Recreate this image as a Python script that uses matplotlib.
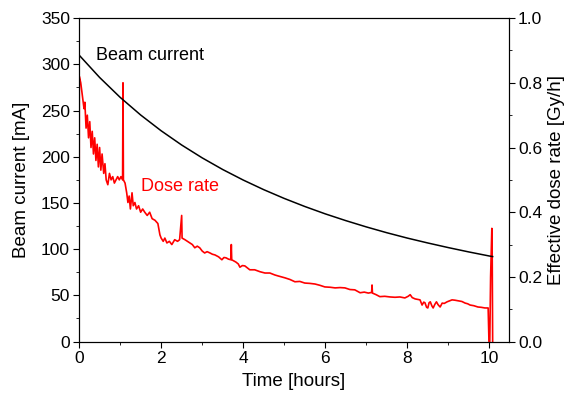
import matplotlib
matplotlib.use('Agg')
import matplotlib.pyplot as plt
from matplotlib.ticker import MultipleLocator
import numpy as np

# beam current [mA]
beam_t = [0.0, 0.5, 1.0, 1.5, 2.0, 2.5, 3.0, 3.5, 4.0, 4.5, 5.0, 5.5, 6.0,
          6.5, 7.0, 7.5, 8.0, 8.5, 9.0, 9.5, 10.0, 10.08]
beam_ma = [310, 285.8, 264.3, 245.2, 228.1, 212.7, 198.8, 186.2, 174.8, 164.4,
           154.9, 146.2, 138.2, 130.9, 124.1, 117.8, 112.0, 106.7, 101.7, 97.0,
           92.6, 92.0]

# effective dose rate [Gy/h]
dose_t = [0.0, 0.005, 0.04, 0.08, 0.12, 0.14, 0.17, 0.20, 0.23, 0.26, 0.29, 0.32,
          0.35, 0.38, 0.41, 0.44, 0.47, 0.50, 0.53, 0.56, 0.60, 0.63, 0.66, 0.70,
          0.74, 0.78, 0.82, 0.86, 0.90, 0.94, 0.98, 1.02, 1.06, 1.07, 1.08, 1.12,
          1.16, 1.19, 1.22, 1.25, 1.29, 1.32, 1.36, 1.40, 1.45, 1.50, 1.55, 1.60,
          1.66, 1.72, 1.78, 1.85, 1.92, 1.97, 2.00, 2.05, 2.09, 2.14, 2.20, 2.26,
          2.33, 2.40, 2.45, 2.50, 2.51, 2.58, 2.64, 2.70, 2.76, 2.82, 2.88, 2.94,
          3.00, 3.06, 3.12, 3.19, 3.25, 3.31, 3.40, 3.48, 3.53, 3.58, 3.64, 3.70,
          3.71, 3.72, 3.82, 3.88, 3.92, 3.98, 4.04, 4.10, 4.16, 4.28, 4.41, 4.53,
          4.65, 4.77, 4.85, 5.02, 5.14, 5.26, 5.38, 5.50, 5.62, 5.75, 5.87, 5.99,
          6.12, 6.24, 6.36, 6.48, 6.60, 6.72, 6.85, 6.95, 7.05, 7.13, 7.14, 7.15,
          7.24, 7.33, 7.45, 7.58, 7.70, 7.82, 7.94, 8.02, 8.07, 8.12, 8.19, 8.27,
          8.31, 8.36, 8.40, 8.43, 8.47, 8.50, 8.53, 8.56, 8.60, 8.63, 8.67, 8.71,
          8.75, 8.80, 8.85, 8.90, 8.97, 9.03, 9.09, 9.16, 9.24, 9.33, 9.41, 9.47,
          9.53, 9.62, 9.72, 9.80, 9.89, 9.97, 9.99, 10.01, 10.03, 10.06, 10.07, 10.08]
dose_gy = [0.0, 0.82, 0.80, 0.76, 0.72, 0.74, 0.66, 0.70, 0.63, 0.68, 0.60, 0.65,
           0.58, 0.63, 0.56, 0.61, 0.54, 0.60, 0.53, 0.58, 0.52, 0.55, 0.50, 0.485,
           0.52, 0.50, 0.51, 0.49, 0.50, 0.51, 0.50, 0.51, 0.50, 0.80, 0.50, 0.49,
           0.46, 0.43, 0.45, 0.41, 0.46, 0.42, 0.43, 0.41, 0.42, 0.40, 0.41, 0.40,
           0.39, 0.40, 0.38, 0.375, 0.365, 0.33, 0.32, 0.31, 0.32, 0.305, 0.31, 0.30,
           0.315, 0.31, 0.315, 0.39, 0.32, 0.315, 0.31, 0.305, 0.30, 0.29, 0.295, 0.29,
           0.28, 0.274, 0.278, 0.274, 0.27, 0.268, 0.262, 0.253, 0.26, 0.259, 0.255, 0.253,
           0.30, 0.253, 0.246, 0.24, 0.23, 0.235, 0.234, 0.228, 0.222, 0.222, 0.216, 0.212,
           0.212, 0.206, 0.203, 0.197, 0.192, 0.185, 0.186, 0.181, 0.18, 0.178, 0.174, 0.169,
           0.168, 0.166, 0.167, 0.166, 0.161, 0.160, 0.151, 0.153, 0.150, 0.152, 0.175, 0.15,
           0.145, 0.139, 0.140, 0.138, 0.137, 0.138, 0.135, 0.140, 0.145, 0.136, 0.132, 0.130,
           0.129, 0.113, 0.122, 0.12, 0.106, 0.104, 0.12, 0.123, 0.11, 0.104, 0.115, 0.123,
           0.114, 0.107, 0.119, 0.118, 0.123, 0.126, 0.129, 0.128, 0.126, 0.124, 0.119, 0.117,
           0.113, 0.111, 0.107, 0.106, 0.104, 0.104, 0.0, 0.0, 0.20, 0.35, 0.25, 0.0]

plt.rcParams.update({'font.family': 'Liberation Sans',
                     'font.size': 12.5,
                     'xtick.direction': 'out',
                     'ytick.direction': 'out',
                     'xtick.major.size': 4,
                     'ytick.major.size': 4,
                     'xtick.minor.size': 2.5,
                     'ytick.minor.size': 2.5,
                     'xtick.major.pad': 3,
                     'ytick.major.pad': 2.5,
                     'axes.linewidth': 0.8})

fig = plt.figure(figsize=(5.65, 3.94), dpi=100)
ax = fig.add_axes([0.140, 0.133, 0.761, 0.821])
ax2 = ax.twinx()

ax2.plot(dose_t, dose_gy, color='red', lw=1.2)
ax.plot(beam_t, beam_ma, color='black', lw=1.1)
ax.set_zorder(ax2.get_zorder() + 1)
ax.patch.set_visible(False)

ax.set_xlim(0, 10.48)
ax.set_ylim(0, 350)
ax2.set_ylim(0, 1.0)

ax.xaxis.set_major_locator(MultipleLocator(2))
ax.xaxis.set_minor_locator(MultipleLocator(1))
ax.yaxis.set_major_locator(MultipleLocator(50))
ax.yaxis.set_minor_locator(MultipleLocator(25))
ax2.yaxis.set_major_locator(MultipleLocator(0.2))
ax2.yaxis.set_minor_locator(MultipleLocator(0.1))
ax2.yaxis.set_major_formatter(plt.FormatStrFormatter('%.1f'))

ax.set_xlabel('Time [hours]', fontsize=13.5, labelpad=5)
ax.set_ylabel('Beam current [mA]', fontsize=13.5, labelpad=8)
ax2.set_ylabel('Effective dose rate [Gy/h]', fontsize=13.5, labelpad=4)

ax.text(1.73, 310, 'Beam current', fontsize=13, color='black', ha='center', va='center')
ax.text(2.46, 168, 'Dose rate', fontsize=13, color='red', ha='center', va='center')

fig.savefig('out.png', dpi=100)
